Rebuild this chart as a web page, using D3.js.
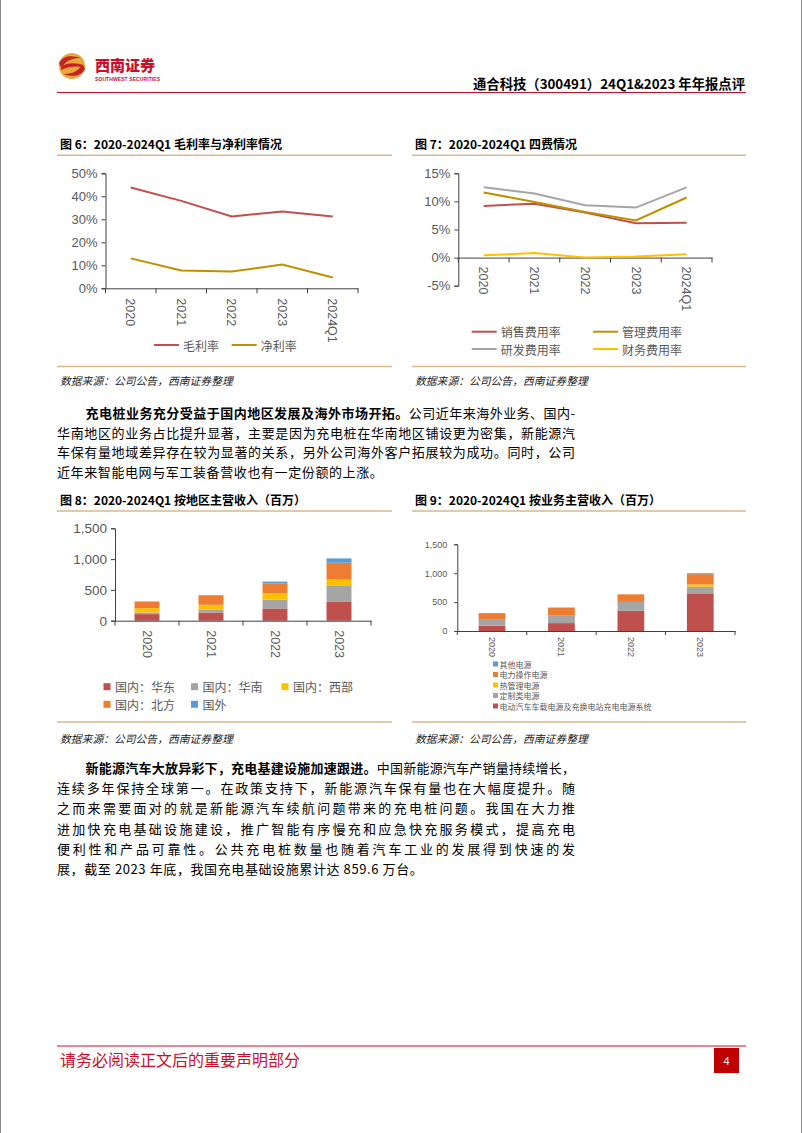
<!DOCTYPE html>
<html><head><meta charset="utf-8">
<script src="https://cdn.jsdelivr.net/npm/d3@7"></script>
<style>body{margin:0;background:#fff} svg{display:block}</style>
</head><body>
<script>
// ---------------- data ----------------
const years = ["2020","2021","2022","2023","2024Q1"];
const grossMargin = [43.8, 38.0, 31.2, 33.4, 31.2];
const netMargin = [13.0, 7.7, 7.3, 10.3, 4.7];
const marginTicks = [0,10,20,30,40,50];

const salesRate = [9.2, 9.6, 8.0, 6.1, 6.2];
const adminRate = [11.6, 9.9, 8.1, 6.6, 10.7];
const rdRate = [12.5, 11.4, 9.3, 8.9, 12.5];
const finRate = [0.4, 0.8, 0.0, 0.2, 0.6];
const feeTicks = [-5,0,5,10,15];

const barYears = ["2020","2021","2022","2023"];
const regionKeys = ["国内：华东","国内：华南","国内：西部","国内：北方","国外"];
const eastRev = [107, 134, 199, 312];
const southRev = [27, 49, 140, 253];
const westRev = [70, 75, 107, 102];
const northRev = [108, 156, 156, 274];
const overseasRev = [0, 0, 32, 70];

const bizKeys = ["电动汽车车载电源及充换电站充电电源系统","定制类电源","热管理电源","电力操作电源","其他电源"];
const evRev = [91, 137, 349, 651];
const customRev = [103, 137, 154, 115];
const thermalRev = [0, 0, 0, 40];
const powerOpRev = [115, 132, 131, 177];
const otherRev = [0, 0, 0, 17];
const revTicks = [0,500,1000,1500];

const para1 = [
  {bold:"充电桩业务充分受益于国内地区发展及海外市场开拓。", text:"公司近年来海外业务、国内-", indent:true, justify:true},
  {text:"华南地区的业务占比提升显著，主要是因为充电桩在华南地区铺设更为密集，新能源汽", justify:true},
  {text:"车保有量地域差异存在较为显著的关系，另外公司海外客户拓展较为成功。同时，公司", justify:true},
  {text:"近年来智能电网与军工装备营收也有一定份额的上涨。", justify:false}
];
const para2 = [
  {bold:"新能源汽车大放异彩下，充电基建设施加速跟进。", text:"中国新能源汽车产销量持续增长，", indent:true, justify:true},
  {text:"连续多年保持全球第一。在政策支持下，新能源汽车保有量也在大幅度提升。随", justify:true},
  {text:"之而来需要面对的就是新能源汽车续航问题带来的充电桩问题。我国在大力推", justify:true},
  {text:"进加快充电基础设施建设，推广智能有序慢充和应急快充服务模式，提高充电", justify:true},
  {text:"便利性和产品可靠性。公共充电桩数量也随着汽车工业的发展得到快速的发", justify:true},
  {text:"展，截至 2023 年底，我国充电基础设施累计达 859.6 万台。", justify:false}
];

// ---------------- setup ----------------
const W = 802, H = 1133;
const svg = d3.select("body").append("svg").attr("width", W).attr("height", H);
const SANS = "'Liberation Sans','Noto Sans CJK SC',sans-serif";
const CJK = "'Noto Sans CJK SC','Liberation Sans',sans-serif";
const RED = "#c0504d", GOLD = "#bf9000", GRAY = "#a5a5a5", YEL = "#ffc000", ORG = "#ed7d31", BLUE = "#5b9bd5";
const AX = "#404040", LBL = "#595959", TAN = "#d6b98f", BRAND = "#c8102e";

svg.append("rect").attr("width", W).attr("height", H).attr("fill", "#fff");
svg.append("line").attr("x1", 0.5).attr("x2", 0.5).attr("y1", 0).attr("y2", H).attr("stroke", "#8a8a8a");
svg.append("line").attr("x1", W - 0.5).attr("x2", W - 0.5).attr("y1", 0).attr("y2", H).attr("stroke", "#8a8a8a");

// ---------------- header ----------------
const logo = svg.append("g");
logo.append("circle").attr("cx", 72).attr("cy", 66).attr("r", 13).attr("fill", "#e9a83a");
logo.append("path").attr("fill", "#c8202a")
  .attr("d", "M59,63 C63,55 73,55 81,58 C75,58 67,59 63,66 C61,68 60,66 59,63 Z");
logo.append("path").attr("fill", "#c8202a")
  .attr("d", "M85,69 C81,77 71,77 63,74 C69,74 77,73 81,66 C83,64 84,66 85,69 Z");
logo.append("path").attr("fill", "#c8202a")
  .attr("d", "M61,67 C67,62 77,63 83,65 L83,67 C77,66 68,66 61,70 Z");
svg.append("text").attr("x", 95).attr("y", 64.5).attr("dominant-baseline", "central")
  .attr("fill", BRAND).style("font-family", CJK).style("font-weight", 900).style("font-size", "15px")
  .text("西南证券");
svg.append("text").attr("x", 95).attr("y", 78.5).attr("dominant-baseline", "central")
  .attr("fill", BRAND).style("font-family", SANS).style("font-weight", 700).style("font-size", "5px")
  .attr("textLength", 65).text("SOUTHWEST SECURITIES");
svg.append("text").attr("x", 745).attr("y", 82.5).attr("text-anchor", "end").attr("dominant-baseline", "central")
  .attr("fill", "#000").style("font-family", CJK).style("font-weight", 700).style("font-size", "13.5px")
  .attr("textLength", 272).attr("lengthAdjust", "spacingAndGlyphs")
  .text("通合科技（300491）24Q1&2023 年年报点评");
svg.append("line").attr("x1", 57).attr("x2", 746).attr("y1", 92.5).attr("y2", 92.5)
  .attr("stroke", BRAND).attr("stroke-width", 1.2);

// ---------------- footer ----------------
svg.append("line").attr("x1", 57).attr("x2", 746).attr("y1", 1046).attr("y2", 1046)
  .attr("stroke", BRAND).attr("stroke-width", 1.2);
svg.append("text").attr("x", 60).attr("y", 1059).attr("dominant-baseline", "central")
  .attr("fill", BRAND).style("font-family", CJK).style("font-size", "16px")
  .text("请务必阅读正文后的重要声明部分");
svg.append("rect").attr("x", 714).attr("y", 1048).attr("width", 25).attr("height", 25).attr("fill", "#c00000");
svg.append("text").attr("x", 726.5).attr("y", 1060.5).attr("text-anchor", "middle").attr("dominant-baseline", "central")
  .attr("fill", "#fff").style("font-family", SANS).style("font-size", "11px").text("4");

// ---------------- figure frames ----------------
function frame(x0, x1, titleY, title, ruleY, srcY) {
  svg.append("text").attr("x", x0 + 3).attr("y", titleY).attr("dominant-baseline", "central")
    .attr("fill", "#000").style("font-family", CJK).style("font-weight", 700).style("font-size", "12px")
    .text(title);
  svg.append("line").attr("x1", x0).attr("x2", x1).attr("y1", titleY + 12).attr("y2", titleY + 12)
    .attr("stroke", TAN).attr("stroke-width", 1.5);
  svg.append("line").attr("x1", x0).attr("x2", x1).attr("y1", ruleY).attr("y2", ruleY)
    .attr("stroke", TAN).attr("stroke-width", 1.5);
  svg.append("text").attr("x", x0 + 3).attr("y", srcY).attr("dominant-baseline", "central")
    .attr("fill", "#222").style("font-family", CJK).style("font-style", "italic").style("font-size", "10.8px")
    .text("数据来源：公司公告，西南证券整理");
}
frame(57, 392, 143.3, "图 6：2020-2024Q1 毛利率与净利率情况", 366.5, 379.5);
frame(412, 746, 143.3, "图 7：2020-2024Q1 四费情况", 366.5, 379.5);
frame(57, 392, 499, "图 8：2020-2024Q1 按地区主营收入（百万）", 722, 738);
frame(412, 746, 499, "图 9：2020-2024Q1 按业务主营收入（百万）", 722, 738);

// ---------------- axes helper ----------------
function axes(xs, ys, o) {
  const [rx0, rx1] = xs.range();
  const ya = svg.append("g").attr("transform", `translate(${rx0},0)`)
    .call(d3.axisLeft(ys).tickValues(o.ticks).tickFormat(o.fmt).tickSizeOuter(0).tickSize(o.ytick).tickPadding(o.ypad));
  ya.select(".domain").attr("stroke", AX);
  ya.selectAll(".tick line").attr("stroke", AX);
  ya.selectAll(".tick text").attr("fill", LBL).style("font-size", o.fs + "px").style("font-family", SANS);
  const ay = o.axisY;
  const xa = svg.append("g").attr("transform", `translate(0,${ay})`)
    .call(d3.axisBottom(xs).tickSize(0).tickSizeOuter(0));
  xa.select(".domain").attr("stroke", AX);
  xa.selectAll(".tick text")
    .attr("transform", "rotate(90)").attr("x", o.xlab).attr("y", 0).attr("dy", "0.35em")
    .attr("text-anchor", "start").attr("fill", LBL)
    .style("font-size", o.xfs + "px").style("font-family", SANS);
  const n = xs.domain().length;
  const bounds = d3.range(n + 1).map(i => rx0 + i * (rx1 - rx0) / n);
  xa.selectAll("line.bt").data(bounds).join("line").attr("class", "bt")
    .attr("x1", d => d).attr("x2", d => d).attr("y1", 0).attr("y2", o.xtick).attr("stroke", AX);
}

// ---------------- Figure 6 ----------------
{
  const xs = d3.scaleBand().domain(years).range([105.5, 358]);
  const ys = d3.scaleLinear().domain([0, 50]).range([288.3, 173.3]);
  axes(xs, ys, {ticks: marginTicks, fmt: d => d + "%", ytick: 4, ypad: 4, fs: 13, xfs: 12.5, axisY: ys(0), xlab: 10, xtick: 5});
  const line = d3.line().x((d, i) => xs(years[i]) + xs.bandwidth() / 2).y(d => ys(d));
  [[grossMargin, RED], [netMargin, GOLD]].forEach(([s, c]) => {
    svg.append("path").attr("d", line(s)).attr("fill", "none").attr("stroke", c).attr("stroke-width", 2);
  });
  const leg = [["毛利率", RED, 154], ["净利率", GOLD, 231.7]];
  leg.forEach(([t, c, x]) => {
    svg.append("line").attr("x1", x).attr("x2", x + 25).attr("y1", 345).attr("y2", 345).attr("stroke", c).attr("stroke-width", 2);
    svg.append("text").attr("x", x + 29).attr("y", 345).attr("dominant-baseline", "central")
      .attr("fill", LBL).style("font-family", CJK).style("font-size", "12px").text(t);
  });
}

// ---------------- Figure 7 ----------------
{
  const xs = d3.scaleBand().domain(years).range([458.3, 712]);
  const ys = d3.scaleLinear().domain([-5, 15]).range([285.7, 173.3]);
  axes(xs, ys, {ticks: feeTicks, fmt: d => d + "%", ytick: 4, ypad: 4, fs: 13, xfs: 12.5, axisY: ys(0), xlab: 9, xtick: 5});
  const line = d3.line().x((d, i) => xs(years[i]) + xs.bandwidth() / 2).y(d => ys(d));
  [[rdRate, GRAY], [salesRate, RED], [adminRate, GOLD], [finRate, YEL]].forEach(([s, c]) => {
    svg.append("path").attr("d", line(s)).attr("fill", "none").attr("stroke", c).attr("stroke-width", 2);
  });
  const leg = [["销售费用率", RED, 471.7, 331.7], ["管理费用率", GOLD, 593, 331.7],
               ["研发费用率", GRAY, 471.7, 349], ["财务费用率", YEL, 593, 349]];
  leg.forEach(([t, c, x, y]) => {
    svg.append("line").attr("x1", x).attr("x2", x + 25).attr("y1", y).attr("y2", y).attr("stroke", c).attr("stroke-width", 2);
    svg.append("text").attr("x", x + 29).attr("y", y).attr("dominant-baseline", "central")
      .attr("fill", LBL).style("font-family", CJK).style("font-size", "12px").text(t);
  });
}

// ---------------- Figure 8 ----------------
{
  const rows = barYears.map((y, i) => ({year: y, "国内：华东": eastRev[i], "国内：华南": southRev[i],
    "国内：西部": westRev[i], "国内：北方": northRev[i], "国外": overseasRev[i]}));
  const colors = [RED, GRAY, YEL, ORG, BLUE];
  const xs = d3.scaleBand().domain(barYears).range([115, 371]).paddingInner(0.61).paddingOuter(0.305);
  const ys = d3.scaleLinear().domain([0, 1500]).range([620.7, 528.3]);
  const stack = d3.stack().keys(regionKeys)(rows);
  stack.forEach((layer, k) => {
    svg.append("g").selectAll("rect").data(layer).join("rect")
      .attr("x", d => xs(d.data.year)).attr("width", xs.bandwidth())
      .attr("y", d => ys(d[1])).attr("height", d => ys(d[0]) - ys(d[1]))
      .attr("fill", colors[k]);
  });
  axes(xs, ys, {ticks: revTicks, fmt: d3.format(","), ytick: 4, ypad: 4, fs: 13.5, xfs: 12.5, axisY: ys(0), xlab: 9.5, xtick: 5});
  const pos = [[103.5, 686.7], [191, 686.7], [281.5, 686.7], [103.5, 704.3], [191, 704.3]];
  regionKeys.forEach((k, i) => {
    const [x, y] = pos[i];
    svg.append("rect").attr("x", x).attr("y", y - 3.5).attr("width", 7).attr("height", 7).attr("fill", colors[i]);
    svg.append("text").attr("x", x + 11.5).attr("y", y).attr("dominant-baseline", "central")
      .attr("fill", LBL).style("font-family", CJK).style("font-size", "12px").text(k);
  });
}

// ---------------- Figure 9 ----------------
{
  const rows = barYears.map((y, i) => ({year: y, [bizKeys[0]]: evRev[i], [bizKeys[1]]: customRev[i],
    [bizKeys[2]]: thermalRev[i], [bizKeys[3]]: powerOpRev[i], [bizKeys[4]]: otherRev[i]}));
  const colors = [RED, GRAY, YEL, ORG, BLUE];
  const xs = d3.scaleBand().domain(barYears).range([457.3, 735]).paddingInner(0.615).paddingOuter(0.3075);
  const ys = d3.scaleLinear().domain([0, 1500]).range([631, 544.3]);
  const stack = d3.stack().keys(bizKeys)(rows);
  stack.forEach((layer, k) => {
    svg.append("g").selectAll("rect").data(layer).join("rect")
      .attr("x", d => xs(d.data.year)).attr("width", xs.bandwidth())
      .attr("y", d => ys(d[1])).attr("height", d => ys(d[0]) - ys(d[1]))
      .attr("fill", colors[k]);
  });
  axes(xs, ys, {ticks: revTicks, fmt: d3.format(","), ytick: 3, ypad: 7, fs: 9, xfs: 9, axisY: ys(0), xlab: 6, xtick: 4});
  const legY = [706, 695.5, 685, 674.5, 664];
  bizKeys.forEach((k, i) => {
    svg.append("rect").attr("x", 493).attr("y", legY[i] - 2.5).attr("width", 5).attr("height", 5).attr("fill", colors[i]);
    svg.append("text").attr("x", 499.5).attr("y", legY[i]).attr("dominant-baseline", "central")
      .attr("fill", LBL).style("font-family", CJK).style("font-size", "8px").text(k);
  });
}

// ---------------- paragraphs ----------------
function paragraph(lines, ys) {
  lines.forEach((ln, i) => {
    const x0 = ln.indent ? 85.5 : 57;
    const t = svg.append("text").attr("x", x0).attr("y", ys[i]).attr("dominant-baseline", "central")
      .attr("fill", "#000").style("font-family", CJK).style("font-size", "13px");
    if (ln.bold) t.append("tspan").style("font-weight", 700).text(ln.bold);
    t.append("tspan").text(ln.text);
    const node = t.node();
    const n = node.getNumberOfChars();
    const w = node.getComputedTextLength();
    if (ln.justify) {
      const ls = (575 - x0 - w) / (n - 1);
      t.attr("letter-spacing", ls);
    } else {
      t.attr("letter-spacing", 0.6);
    }
  });
}
paragraph(para1, [412, 431.7, 451.2, 470.6]);
paragraph(para2, [767, 787, 807.2, 827.5, 848, 867.5]);
</script>
</body></html>
